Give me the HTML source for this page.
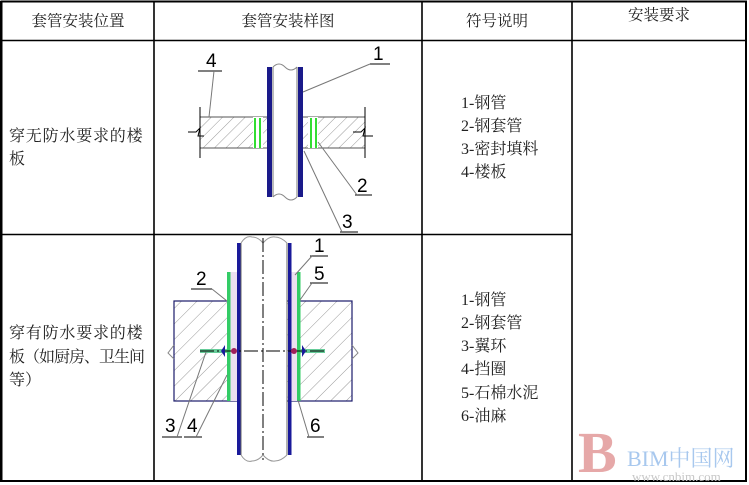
<!DOCTYPE html>
<html><head><meta charset="utf-8"><style>
html,body{margin:0;padding:0;background:#fff;}
svg{display:block;}
text{font-family:"Liberation Serif","Noto Serif CJK SC","Noto Sans CJK SC",serif;fill:#222;}
.n{font-family:"Liberation Sans",sans-serif;fill:#000;font-size:19px;}
</style></head><body>
<svg width="749" height="485" viewBox="0 0 749 485" xmlns="http://www.w3.org/2000/svg">
<defs>
<pattern id="h" width="8" height="8" patternUnits="userSpaceOnUse" patternTransform="rotate(45)">
<rect width="8" height="8" fill="#fff"/><line x1="0" y1="0" x2="0" y2="8" stroke="#999" stroke-width="1"/>
</pattern>
<pattern id="h2" width="11" height="11" patternUnits="userSpaceOnUse" patternTransform="rotate(45)">
<rect width="11" height="11" fill="#fff"/><line x1="0" y1="0" x2="0" y2="11" stroke="#999" stroke-width="1"/>
</pattern>
</defs>
<g stroke="#000" fill="none">
<rect x="1.5" y="1.5" width="744.5" height="479.5" stroke-width="2"/>
<line x1="0" y1="1" x2="0" y2="482" stroke-width="4"/>
<line x1="1" y1="40.5" x2="746" y2="40.5" stroke-width="1.6"/>
<line x1="1" y1="234.5" x2="572" y2="234.5" stroke-width="1.6"/>
<line x1="154" y1="1" x2="154" y2="481" stroke-width="1.6"/>
<line x1="422" y1="1" x2="422" y2="481" stroke-width="1.6"/>
<line x1="572" y1="1" x2="572" y2="481" stroke-width="1.6"/>
</g>
<g font-size="15.5">
<text x="78" y="26" text-anchor="middle">套管安装位置</text>
<text x="288" y="26" text-anchor="middle">套管安装样图</text>
<text x="497" y="26" text-anchor="middle">符号说明</text>
<text x="659" y="20" text-anchor="middle">安装要求</text>
</g>
<g font-size="16">
<text x="9" y="141" letter-spacing="0.8">穿无防水要求的楼</text>
<text x="9" y="164">板</text>
<text x="9" y="338" letter-spacing="0.8">穿有防水要求的楼</text>
<text x="9" y="362" letter-spacing="-1">板（如厨房、卫生间</text>
<text x="9" y="385">等）</text>
<text x="461" y="108">1-钢管</text>
<text x="461" y="131">2-钢套管</text>
<text x="461" y="154">3-密封填料</text>
<text x="461" y="177">4-楼板</text>
<text x="461" y="305">1-钢管</text>
<text x="461" y="328">2-钢套管</text>
<text x="461" y="351">3-翼环</text>
<text x="461" y="374">4-挡圈</text>
<text x="461" y="398">5-石棉水泥</text>
<text x="461" y="421">6-油麻</text>
</g>
<!-- drawing 1 -->
<rect x="200" y="117" width="165" height="31" fill="url(#h)" stroke="#555" stroke-width="1"/>
<rect x="272" y="112" width="26" height="40" fill="#fff"/>
<rect x="253" y="117" width="10" height="31" fill="#fff"/>
<rect x="308" y="117" width="10" height="31" fill="#fff"/>
<g stroke="#3d3" stroke-width="2"><line x1="255" y1="118" x2="255" y2="148"/><line x1="260" y1="118" x2="260" y2="148"/><line x1="311" y1="118" x2="311" y2="148"/><line x1="316" y1="118" x2="316" y2="148"/></g>
<rect x="267" y="67" width="5" height="130" fill="#1a1a8a"/>
<rect x="298" y="67" width="5" height="130" fill="#1a1a8a"/>
<line x1="273" y1="67" x2="273" y2="197" stroke="#777"/><line x1="297" y1="67" x2="297" y2="197" stroke="#777"/>
<path d="M273 67 q6 -6 12 0 q6 6 12 0 M273 197 q6 -6 12 0 q6 6 12 0" stroke="#888" fill="none"/>
<g stroke="#000" stroke-width="1" fill="none">
<line x1="200" y1="107" x2="200" y2="158"/><line x1="365" y1="107" x2="365" y2="158"/>
<path d="M188 132 h8 l4 -4 l-2 8 h6 M353 132 h8 l4 -4 l-2 8 h10"/>
<line x1="198" y1="71" x2="222" y2="71"/><line x1="370" y1="64" x2="390" y2="64"/>
<line x1="355" y1="195" x2="372" y2="195"/><line x1="340" y1="232" x2="358" y2="232"/>
</g>
<g stroke="#777" stroke-width="1">
<line x1="214" y1="71" x2="209" y2="117"/><line x1="370" y1="64" x2="303" y2="92"/>
<line x1="357" y1="195" x2="318" y2="142"/><line x1="342" y1="232" x2="304" y2="151"/>
</g>
<text class="n" x="206" y="67">4</text><text class="n" x="373" y="60">1</text>
<text class="n" x="357" y="192">2</text><text class="n" x="342" y="228">3</text>
<!-- drawing 2 -->
<rect x="174" y="301" width="178" height="100" fill="url(#h2)" stroke="#1a1a6a" stroke-width="1.2"/>
<rect x="230" y="272" width="7" height="129" fill="#ece0f0"/>
<rect x="291" y="272" width="7" height="129" fill="#ece0f0"/>
<rect x="241" y="242" width="46" height="214" fill="#fff"/>
<rect x="227" y="272" width="3.5" height="129" fill="#3c6"/>
<rect x="297" y="272" width="3.5" height="129" fill="#3c6"/>
<rect x="200" y="349" width="27" height="4" fill="#6c9"/>
<rect x="300" y="349" width="25" height="4" fill="#6c9"/>
<rect x="237" y="243" width="3.5" height="212" fill="#1a1a9a"/>
<rect x="288" y="243" width="3.5" height="212" fill="#1a1a9a"/>
<line x1="241" y1="243" x2="241" y2="455" stroke="#666"/><line x1="287" y1="243" x2="287" y2="455" stroke="#666"/>
<path d="M241 243 q5 -8 11 -6 q6 0 11 6 q6 -7 12 -6 q6 0 12 6 M241 455 q5 8 11 6 q6 0 11 -6 q6 7 12 6 q6 0 12 -6" stroke="#999" fill="none"/>
<line x1="263" y1="238" x2="263" y2="460" stroke="#000" stroke-dasharray="14,3,2,3"/>
<line x1="200" y1="351" x2="325" y2="351" stroke="#000" stroke-dasharray="14,3,2,3"/>
<circle cx="234" cy="351" r="3" fill="#a0205a"/><circle cx="294" cy="351" r="3" fill="#a0205a"/>
<path d="M225 345 l-4 6 l4 6z M302 345 l4 6 l-4 6z" fill="#1a1a9a"/>
<g stroke="#000" stroke-width="1" fill="none">
<path d="M174 345 l-6 8 l6 6 M352 345 l6 8 l-6 6" stroke="#888"/>
<line x1="191" y1="289" x2="212" y2="289"/><line x1="310" y1="256" x2="328" y2="256"/>
<line x1="310" y1="283" x2="328" y2="283"/><line x1="162" y1="437" x2="182" y2="437"/>
<line x1="184" y1="437" x2="202" y2="437"/><line x1="307" y1="437" x2="324" y2="437"/>
</g>
<g stroke="#777" stroke-width="1">
<line x1="212" y1="289" x2="227" y2="301"/><line x1="312" y1="256" x2="295" y2="275"/>
<line x1="312" y1="283" x2="300" y2="300"/><line x1="177" y1="437" x2="206" y2="352"/>
<line x1="196" y1="437" x2="227" y2="375"/><line x1="309" y1="437" x2="298" y2="400"/>
</g>
<text class="n" x="196" y="285">2</text><text class="n" x="314" y="252">1</text>
<text class="n" x="314" y="280">5</text><text class="n" x="165" y="432">3</text>
<text class="n" x="187" y="432">4</text><text class="n" x="310" y="432">6</text>
<!-- watermark -->
<text x="578" y="472" font-family="Liberation Serif,serif" font-size="58" font-weight="bold" style="fill:#e6a8a8">B</text>
<text x="627" y="466" font-family="Liberation Sans,'Noto Sans CJK SC',sans-serif" font-size="22" style="fill:#a8c8ee">BIM中国网</text>
<text x="632" y="481" font-family="Liberation Sans,sans-serif" font-size="13" style="fill:#c8c8c8">www.cnbim.com</text>
</svg>
</body></html>
